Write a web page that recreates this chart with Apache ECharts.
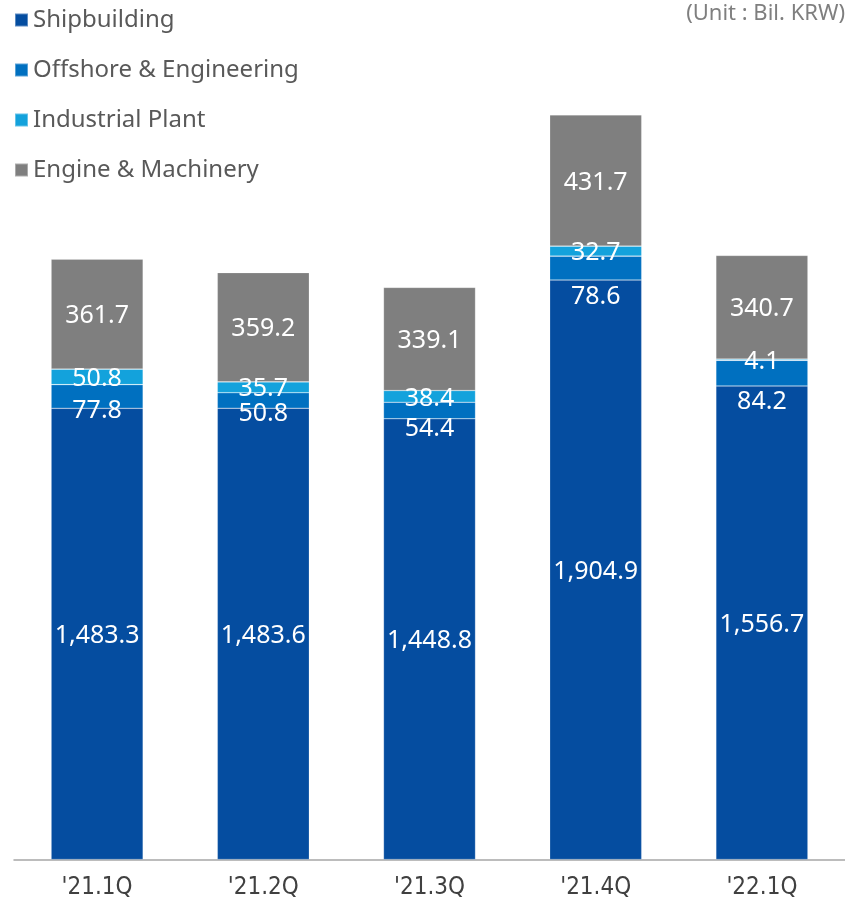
<!DOCTYPE html>
<html>
<head>
<meta charset="utf-8">
<script src="https://cdn.jsdelivr.net/npm/echarts@6/dist/echarts.min.js"></script>
<style>
  html, body { margin: 0; padding: 0; background: #fff; }
  #chart { width: 845px; height: 902px; }
</style>
</head>
<body>
<div id="chart"></div>
<script>
// quarters and segment sales (Bil. KRW)
const quarters = ["'21.1Q", "'21.2Q", "'21.3Q", "'21.4Q", "'22.1Q"];
const shipbuilding = [1483.3, 1483.6, 1448.8, 1904.9, 1556.7];
const offshore = [77.8, 50.8, 54.4, 78.6, 84.2];
const industrial = [50.8, 35.7, 38.4, 32.7, 4.1];
const engine = [361.7, 359.2, 339.1, 431.7, 340.7];

// label nudges for the thin offshore segment (labels sit below it in the original)
const offshoreNudge = [14, 13, 18, 29, 29];

const colors = ['#054DA0', '#0070C0', '#13A2DC', '#7F7F7F'];

const fmt = (v) => v.toLocaleString('en-US', { minimumFractionDigits: 1, maximumFractionDigits: 1 });

const labelBase = {
  show: true,
  position: 'inside',
  color: '#fff',
  fontSize: 25,
  fontFamily: 'Noto Sans',
  formatter: (p) => fmt(p.value),
};

const mkSeries = (name, values, color, nudge) => ({
  name,
  type: 'bar',
  stack: 'total',
  barWidth: 92,
  data: values.map((v, i) => ({
    value: v,
    label: nudge ? { offset: [0, nudge[i]] } : undefined,
  })),
  itemStyle: { color, borderColor: 'rgba(255,255,255,0.35)', borderWidth: 0.6 },
  label: { ...labelBase, offset: [0, 2] },
  emphasis: { disabled: true },
});

const chart = echarts.init(document.getElementById('chart'), null, { renderer: 'canvas' });

chart.setOption({
  animation: false,
  title: {
    text: '(Unit : Bil. KRW)',
    right: 0,
    top: 3,
    padding: 0,
    textStyle: { color: '#7F7F7F', fontSize: 22, fontWeight: 'normal', fontFamily: 'Noto Sans' },
  },
  legend: {
    orient: 'vertical',
    left: 14,
    top: 5,
    padding: 0,
    itemWidth: 13,
    itemHeight: 13,
    itemGap: 20,
    itemTextGap: 4,
    icon: 'rect',
    textStyle: { color: '#595959', fontSize: 24, lineHeight: 30, fontFamily: 'Noto Sans' },
    data: ['Shipbuilding', 'Offshore & Engineering', 'Industrial Plant', 'Engine & Machinery'],
  },
  grid: { left: 14, right: 0, top: 99, bottom: 42.5, containLabel: false },
  xAxis: {
    type: 'category',
    data: quarters,
    axisLine: { lineStyle: { color: '#A6A6A6', width: 1.5 } },
    axisTick: { show: false },
    axisLabel: { color: '#404040', fontSize: 24, fontFamily: 'DejaVu Sans Condensed', margin: 16 },
  },
  yAxis: {
    type: 'value',
    min: 0,
    max: 2500,
    show: false,
    splitLine: { show: false },
  },
  series: [
    mkSeries('Shipbuilding', shipbuilding, colors[0]),
    mkSeries('Offshore & Engineering', offshore, colors[1], offshoreNudge),
    mkSeries('Industrial Plant', industrial, colors[2]),
    mkSeries('Engine & Machinery', engine, colors[3]),
  ],
});
</script>
</body>
</html>
